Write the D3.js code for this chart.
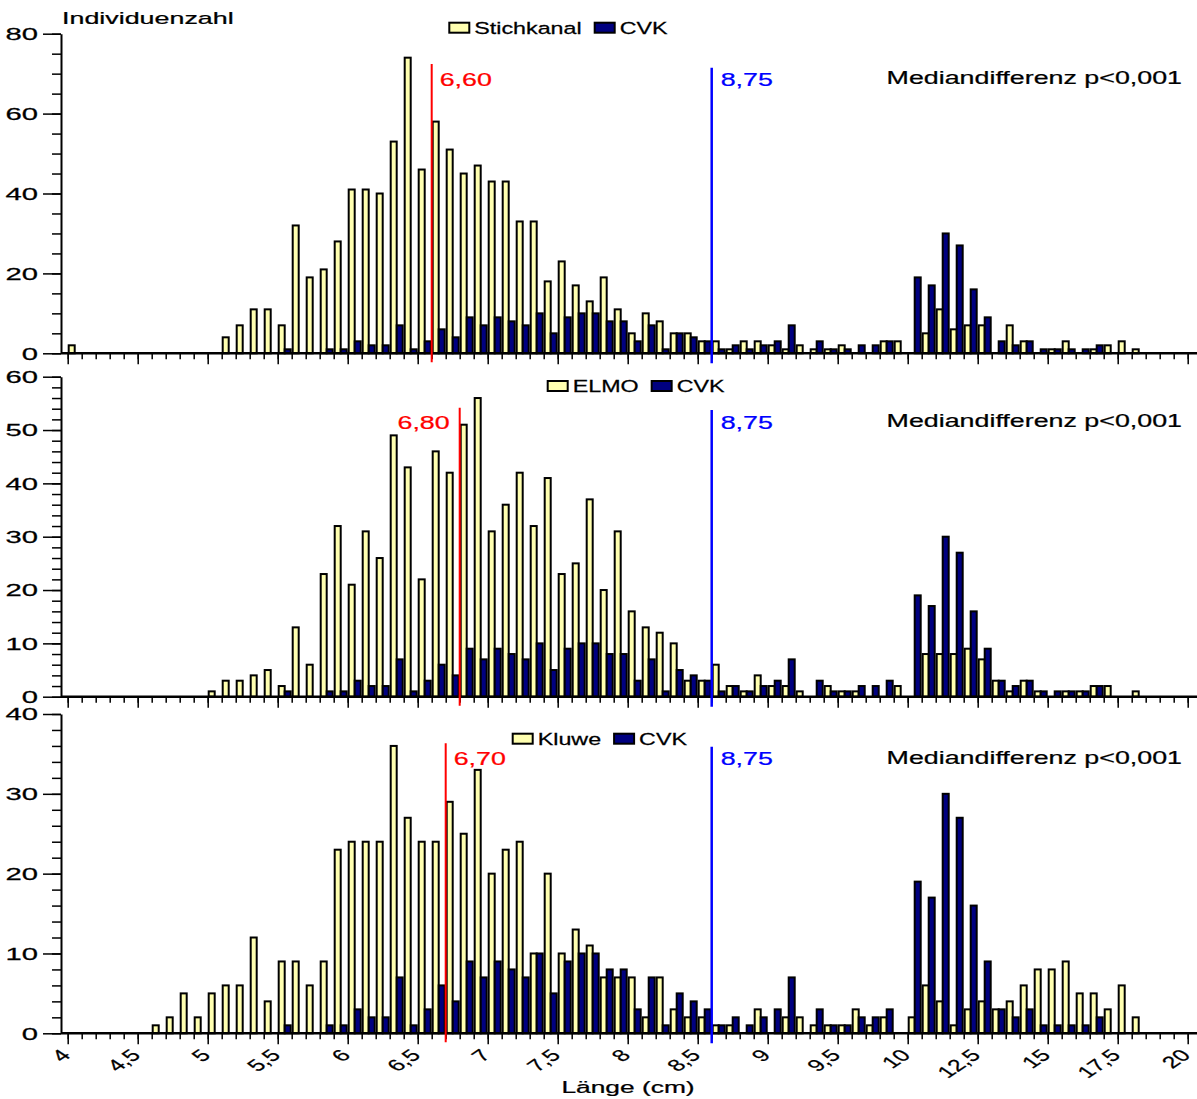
<!DOCTYPE html>
<html>
<head>
<meta charset="utf-8">
<script src="https://cdn.jsdelivr.net/npm/d3@7"></script>
<style>
body { margin: 0; background: #fff; }
text { font-family: "Liberation Sans", Arial, sans-serif; }
</style>
</head>
<body>
<svg id="chart" width="1197" height="1099"></svg>
<script>
// bins: 0.1 cm up to 10 cm, then 0.5 cm
var categories = ["4,0","4,1","4,2","4,3","4,4","4,5","4,6","4,7","4,8","4,9",
	"5,0","5,1","5,2","5,3","5,4","5,5","5,6","5,7","5,8","5,9",
	"6,0","6,1","6,2","6,3","6,4","6,5","6,6","6,7","6,8","6,9",
	"7,0","7,1","7,2","7,3","7,4","7,5","7,6","7,7","7,8","7,9",
	"8,0","8,1","8,2","8,3","8,4","8,5","8,6","8,7","8,8","8,9",
	"9,0","9,1","9,2","9,3","9,4","9,5","9,6","9,7","9,8","9,9",
	"10","10,5","11","11,5","12","12,5","13","13,5","14","14,5",
	"15","15,5","16","16,5","17","17,5","18","18,5","19","19,5"];
var tickLabels = ["4","4,5","5","5,5","6","6,5","7","7,5","8","8,5","9","9,5","10","12,5","15","17,5","20"];

var stichkanal = [2,0,0,0,0,0,0,0,0,0, 0,4,7,11,11,7,32,19,21,28,
	41,41,40,53,74,46,58,51,45,47, 43,43,33,33,18,23,17,13,19,11,
	5,10,8,5,5,3,3,1,3,3, 2,1,2,1,1,2,0,0,3,3,
	0,5,11,6,7,7,0,7,3,0, 1,3,0,1,2,3,1,0,0,0];
var elmo = [0,0,0,0,0,0,0,0,0,0, 1,3,3,4,5,2,13,6,23,32,
	21,31,26,49,43,22,46,42,51,56, 31,36,42,32,41,23,25,37,20,31,
	16,13,12,10,3,3,6,2,1,4, 2,2,1,0,2,1,1,0,0,2,
	0,8,8,8,9,7,3,1,3,1, 0,1,1,2,2,0,1,0,0,0];
var kluwe = [0,0,0,0,0,0,1,2,5,2, 5,6,6,12,4,9,9,6,9,23,
	24,24,24,36,27,24,24,29,25,33, 20,23,24,10,20,10,13,11,7,7,
	7,2,7,3,2,2,1,1,0,3, 0,2,2,1,1,1,3,1,2,0,
	2,6,4,1,3,4,3,4,6,8, 8,9,5,5,3,6,2,0,0,0];
var cvk = [0,0,0,0,0,0,0,0,0,0, 0,0,0,0,0,1,0,0,1,1,
	3,2,2,7,1,3,6,4,9,7, 9,8,7,10,5,9,10,10,8,8,
	3,7,1,5,4,3,1,2,1,2, 3,7,0,3,1,1,2,2,3,0,
	19,17,30,27,16,9,3,2,3,1, 1,1,1,2,0,0,0,0,0,0];

var groupNames = ["Stichkanal", "ELMO", "Kluwe"];
var groupMedianLabels = ["6,60", "6,80", "6,70"];
var groupMedianBins = ["6,6", "6,8", "6,7"];
var cvkMedianLabel = "8,75";
var cvkMedianBin = "8,6";
var yMaxes = [80, 60, 40];
var yMajorSteps = [20, 10, 10];
var yMinorSteps = [5, 2, 2];

var svg = d3.select("#chart");
var x0 = 67.7, x1 = 1187.7;
var x = d3.scaleBand().domain(categories).range([x0, x1]).padding(0);
var xb = d3.scaleLinear().domain([0, categories.length]).range([x0, x1]);
var bw = x.bandwidth();

var layout = [
	{top: 33.7, bottom: 353.3, legX: 448.3, legY: 21.7, redTop: 64, blueTop: 67.7, labY: 86, medY: 84, redLeft: false},
	{top: 376.7, bottom: 696.7, legX: 546.7, legY: 380, redTop: 407.7, blueTop: 410, labY: 428.5, medY: 427, redLeft: true},
	{top: 714, bottom: 1033.3, legX: 511.7, legY: 732.7, redTop: 743.3, blueTop: 746.7, labY: 764.5, medY: 763.5, redLeft: false}
];
var groupData = [stichkanal, elmo, kluwe];

function stretched(g, txt, px, py, sx, size, anchor, color) {
	return g.append("text")
		.attr("transform", "translate(" + px + "," + py + ") scale(" + sx + ",1)")
		.attr("text-anchor", anchor)
		.style("font-size", size + "px")
		.attr("fill", color || "#000")
		.attr("stroke", color || "#000")
		.attr("stroke-width", 0.25)
		.text(txt);
}

layout.forEach(function(p, pi) {
	var g = svg.append("g");
	var y = d3.scaleLinear().domain([0, yMaxes[pi]]).range([p.bottom, p.top]);
	var vals = groupData[pi];

	// bars
	var rows = categories.map(function(c, i) { return {c: c, a: vals[i], b: cvk[i]}; });
	g.selectAll(".ybar")
		.data(rows.filter(function(d) { return d.a > 0; }))
		.enter().append("rect")
		.attr("class", "ybar")
		.attr("x", function(d) { return x(d.c) + 1; })
		.attr("width", bw / 2 - 1)
		.attr("y", function(d) { return y(d.a); })
		.attr("height", function(d) { return y(0) - y(d.a); })
		.attr("fill", "#ffffb0")
		.attr("stroke", "#000")
		.attr("stroke-width", 2);
	g.selectAll(".dbar")
		.data(rows.filter(function(d) { return d.b > 0; }))
		.enter().append("rect")
		.attr("class", "dbar")
		.attr("x", function(d) { return x(d.c) + bw / 2; })
		.attr("width", bw / 2 - 1)
		.attr("y", function(d) { return y(d.b); })
		.attr("height", function(d) { return y(0) - y(d.b); })
		.attr("fill", "#000080")
		.attr("stroke", "#000")
		.attr("stroke-width", 2);

	// y axis
	var yMajor = d3.range(0, yMaxes[pi] + 0.1, yMajorSteps[pi]);
	var yMinor = d3.range(0, yMaxes[pi] + 0.1, yMinorSteps[pi]);
	var ya = g.append("g").attr("transform", "translate(61,0)")
		.call(d3.axisLeft(y).tickValues(yMinor).tickSize(9).tickSizeOuter(0).tickFormat(""));
	ya.select(".domain").attr("stroke-width", 2);
	ya.selectAll(".tick line").attr("stroke-width", 1.5);
	var yb = g.append("g").attr("transform", "translate(61,0)")
		.call(d3.axisLeft(y).tickValues(yMajor).tickSize(18).tickSizeOuter(0).tickFormat(""));
	yb.select(".domain").remove();
	yb.selectAll(".tick line").attr("stroke-width", 1.5);
	yMajor.forEach(function(v) {
		stretched(g, String(v), 38, y(v) + 6.2, 1.72, 17, "end");
	});

	// x axis
	var xa = g.append("g").attr("transform", "translate(0," + p.bottom + ")")
		.call(d3.axisBottom(xb).tickValues(d3.range(0, categories.length + 1)).tickSize(6).tickSizeOuter(0).tickFormat(""));
	xa.select(".domain").remove();
	xa.selectAll(".tick line").attr("stroke-width", 1.5);
	var xm = g.append("g").attr("transform", "translate(0," + p.bottom + ")")
		.call(d3.axisBottom(xb).tickValues(d3.range(0, categories.length + 1, 5)).tickSize(11).tickSizeOuter(0).tickFormat(""));
	xm.select(".domain").remove();
	xm.selectAll(".tick line").attr("stroke-width", 1.5);
	g.append("line")
		.attr("x1", 61).attr("x2", 1197)
		.attr("y1", p.bottom).attr("y2", p.bottom)
		.attr("stroke", "#000").attr("stroke-width", 2.5);

	// median lines
	var rx = x(groupMedianBins[pi]);
	var bx = x(cvkMedianBin);
	g.append("line").attr("x1", rx).attr("x2", rx)
		.attr("y1", p.redTop).attr("y2", p.bottom + 9)
		.attr("stroke", "#ff0000").attr("stroke-width", 2);
	g.append("line").attr("x1", bx).attr("x2", bx)
		.attr("y1", p.blueTop).attr("y2", p.bottom + 10)
		.attr("stroke", "#0000ff").attr("stroke-width", 2.5);
	if (p.redLeft) {
		stretched(g, groupMedianLabels[pi], rx - 10, p.labY, 1.45, 18.5, "end", "#ff0000");
	} else {
		stretched(g, groupMedianLabels[pi], rx + 8, p.labY, 1.45, 18.5, "start", "#ff0000");
	}
	stretched(g, cvkMedianLabel, bx + 9, p.labY, 1.45, 18.5, "start", "#0000ff");
	stretched(g, "Mediandifferenz p<0,001", 1182, p.medY, 1.45, 18.5, "end");

	// legend
	var lx = p.legX;
	[[groupNames[pi], "#ffffb0"], ["CVK", "#000080"]].forEach(function(item) {
		g.append("rect")
			.attr("x", lx + 1).attr("y", p.legY + 1)
			.attr("width", 20).attr("height", 10)
			.attr("fill", item[1]).attr("stroke", "#000").attr("stroke-width", 2);
		var t = stretched(g, item[0], lx + 26, p.legY + 12.3, 1.37, 17, "start");
		lx = lx + 26 + t.node().getComputedTextLength() * 1.37 + 12;
	});

	// tick labels only under the last panel
	if (pi == layout.length - 1) {
		tickLabels.forEach(function(lab, i) {
			g.append("text")
				.attr("transform", "translate(" + (xb(i * 5) + 4) + "," + (p.bottom + 23) + ") scale(1.5,1) rotate(-45)")
				.attr("text-anchor", "end")
				.style("font-size", "16.5px")
				.attr("stroke", "#000")
				.attr("stroke-width", 0.25)
				.text(lab);
		});
	}
});

stretched(svg, "Individuenzahl", 62, 24, 1.58, 17, "start");
stretched(svg, "Länge (cm)", 628, 1093, 1.55, 17, "middle");
</script>
</body>
</html>
